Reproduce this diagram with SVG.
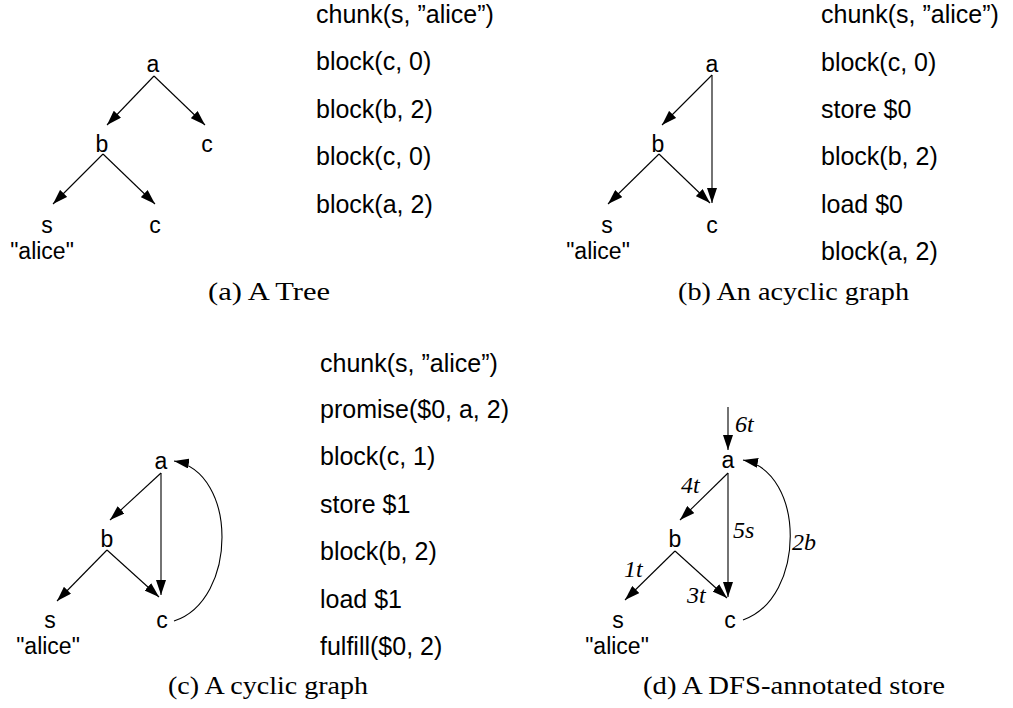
<svg xmlns="http://www.w3.org/2000/svg" width="1013" height="708" viewBox="0 0 1013 708">
<style>
.n{font-family:"Liberation Sans",Arial,sans-serif;font-size:23px;fill:#000;text-anchor:middle}
.code{font-family:"Liberation Sans",Arial,sans-serif;font-size:25px;fill:#000}
.cap{font-family:"Liberation Serif","Times New Roman",serif;font-size:25px;fill:#000}
.lab{font-family:"Liberation Serif","Times New Roman",serif;font-size:24px;font-style:italic;fill:#000}
.e{stroke:#000;stroke-width:1.1;fill:none;marker-end:url(#ah)}
</style>
<defs>
<marker id="ah" markerUnits="userSpaceOnUse" markerWidth="16" markerHeight="10" refX="15" refY="5" orient="auto">
<path d="M0,0 L15,5 L0,10 z" fill="#000"/>
</marker>
</defs>
<rect width="1013" height="708" fill="#fff"/>

<!-- Panel (a) -->
<g id="connectors-a">
<line class="e" x1="154" y1="76" x2="107" y2="125"/>
<line class="e" x1="154" y1="76" x2="205" y2="125"/>
<line class="e" x1="103" y1="154" x2="53" y2="204"/>
<line class="e" x1="103" y1="154" x2="155" y2="204"/>
</g>
<g id="a-node-a"><text class="n" x="153" y="72">a</text></g>
<g id="a-node-b"><text class="n" x="102" y="152">b</text></g>
<g id="a-node-c1"><text class="n" x="207" y="152">c</text></g>
<g id="a-node-s"><text class="n" x="47" y="233">s</text><text class="n" x="42" y="259">"alice"</text></g>
<g id="a-node-c2"><text class="n" x="155" y="233">c</text></g>
<g id="a-code">
<text class="code" x="316" y="23">chunk(s, ”alice”)</text>
<text class="code" x="316" y="70">block(c, 0)</text>
<text class="code" x="316" y="118">block(b, 2)</text>
<text class="code" x="316" y="165">block(c, 0)</text>
<text class="code" x="316" y="213">block(a, 2)</text>
</g>
<text class="cap" x="208" y="300" textLength="122" lengthAdjust="spacingAndGlyphs">(a)  A Tree</text>

<!-- Panel (b) -->
<g id="connectors-b">
<line class="e" x1="712" y1="75" x2="662" y2="125"/>
<line class="e" x1="712" y1="75" x2="712" y2="203"/>
<line class="e" x1="659" y1="154" x2="608" y2="204"/>
<line class="e" x1="659" y1="154" x2="710" y2="203"/>
</g>
<g id="b-node-a"><text class="n" x="712" y="72">a</text></g>
<g id="b-node-b"><text class="n" x="658" y="152">b</text></g>
<g id="b-node-s"><text class="n" x="607" y="233">s</text><text class="n" x="598" y="259">"alice"</text></g>
<g id="b-node-c"><text class="n" x="712" y="233">c</text></g>
<g id="b-code">
<text class="code" x="821" y="23">chunk(s, ”alice”)</text>
<text class="code" x="821" y="71">block(c, 0)</text>
<text class="code" x="821" y="118">store $0</text>
<text class="code" x="821" y="165">block(b, 2)</text>
<text class="code" x="821" y="213">load $0</text>
<text class="code" x="821" y="260">block(a, 2)</text>
</g>
<text class="cap" x="678" y="300" textLength="231" lengthAdjust="spacingAndGlyphs">(b)  An acyclic graph</text>

<!-- Panel (c) -->
<g id="connectors-c">
<line class="e" x1="161" y1="473" x2="110" y2="520"/>
<line class="e" x1="161" y1="473" x2="161" y2="595"/>
<line class="e" x1="107" y1="550" x2="57" y2="601"/>
<line class="e" x1="107" y1="550" x2="159" y2="597"/>
<path class="e" d="M174,621 C238,600 238,472 174,461"/>
</g>
<g id="c-node-a"><text class="n" x="161" y="469">a</text></g>
<g id="c-node-b"><text class="n" x="107" y="547">b</text></g>
<g id="c-node-s"><text class="n" x="50" y="628">s</text><text class="n" x="48" y="654">"alice"</text></g>
<g id="c-node-c"><text class="n" x="162" y="628">c</text></g>
<g id="c-code">
<text class="code" x="320" y="372">chunk(s, ”alice”)</text>
<text class="code" x="320" y="418">promise($0, a, 2)</text>
<text class="code" x="320" y="465">block(c, 1)</text>
<text class="code" x="320" y="513">store $1</text>
<text class="code" x="320" y="560">block(b, 2)</text>
<text class="code" x="320" y="608">load $1</text>
<text class="code" x="320" y="655">fulfill($0, 2)</text>
</g>
<text class="cap" x="168" y="694" textLength="200" lengthAdjust="spacingAndGlyphs">(c)  A cyclic graph</text>

<!-- Panel (d) -->
<g id="connectors-d">
<line class="e" x1="728" y1="407" x2="728" y2="450"/>
<line class="e" x1="728" y1="473" x2="680" y2="520"/>
<line class="e" x1="728" y1="473" x2="728" y2="597"/>
<line class="e" x1="675" y1="551" x2="625" y2="600"/>
<line class="e" x1="675" y1="551" x2="727" y2="598"/>
<path class="e" d="M743,620 C806,598 806,472 743,460"/>
<text class="lab" x="735" y="432">6t</text>
<text class="lab" x="681" y="493">4t</text>
<text class="lab" x="733" y="538">5s</text>
<text class="lab" x="624" y="577">1t</text>
<text class="lab" x="687" y="603">3t</text>
<text class="lab" x="792" y="550">2b</text>
</g>
<g id="d-node-a"><text class="n" x="728" y="468">a</text></g>
<g id="d-node-b"><text class="n" x="675" y="547">b</text></g>
<g id="d-node-s"><text class="n" x="618" y="628">s</text><text class="n" x="617" y="654">"alice"</text></g>
<g id="d-node-c"><text class="n" x="730" y="628">c</text></g>
<text class="cap" x="643" y="694" textLength="302" lengthAdjust="spacingAndGlyphs">(d)  A DFS-annotated store</text>
</svg>
